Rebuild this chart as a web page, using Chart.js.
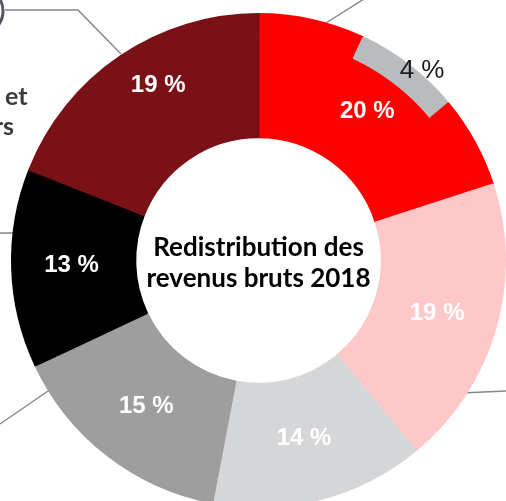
<!DOCTYPE html>
<html>
<head>
<meta charset="utf-8">
<script src="https://cdn.jsdelivr.net/npm/chart.js@4/dist/chart.umd.min.js"></script>
<style>
    html, body { margin: 0; padding: 0; background: #fff; overflow: hidden; width: 506px; height: 501px; }
    #chartBox { position: absolute; left: 0; top: 0; width: 506px; height: 508px; }
</style>
</head>
<body>
<div id="chartBox"><canvas id="revenueChart"></canvas></div>
<script>
// main ring
const categories = ['A', 'B', 'C', 'D', 'E', 'F'];
const shares = [20, 19, 14, 15, 13, 19];
const shareColors = ['#ff0000', '#ffc8c8', '#d5d6d8', '#9e9e9e', '#000000', '#7a1116'];

// outer band: the red 20 % slice is split so the grey "4 %" piece sits on it
const bandValues = [7, 7, 6, 19, 14, 15, 13, 19];
const bandColors = ['#ff0000', '#b9bcbf', '#ff0000', '#ffc8c8', '#d5d6d8', '#9e9e9e', '#000000', '#7a1116'];
const bandLabel = '4 %';

const centerTitle = ['Redistribution des', 'revenus bruts 2018'];

const labelsPlugin = {
    id: 'labelsPlugin',
    beforeDraw: function(chart) {
        // leader lines and cut-off callouts around the chart
        var ctx = chart.ctx;
        ctx.save();
        ctx.strokeStyle = '#80878d';
        ctx.lineWidth = 1.4;
        ctx.beginPath();
        ctx.moveTo(5, 10); ctx.lineTo(78, 10); ctx.lineTo(121, 54);
        ctx.moveTo(364, -1); ctx.lineTo(326, 23);
        ctx.moveTo(0, 233); ctx.lineTo(13, 233);
        ctx.moveTo(0, 424); ctx.lineTo(51, 389);
        ctx.moveTo(461, 393); ctx.lineTo(506, 391);
        ctx.moveTo(311, 494); ctx.lineTo(311, 501);
        ctx.stroke();

        ctx.strokeStyle = '#55595d';
        ctx.lineWidth = 3;
        ctx.beginPath();
        ctx.arc(-21, 11, 24, 0, Math.PI * 2);
        ctx.stroke();

        ctx.fillStyle = '#3b3b3b';
        ctx.font = 'bold 25px Lato, "Open Sans", sans-serif';
        ctx.textBaseline = 'alphabetic';
        ctx.textAlign = 'left';
        ctx.fillText('et', 5, 105);
        ctx.textAlign = 'right';
        ctx.fillText('rs', 14, 135);
        ctx.restore();
    },
    afterDraw: function(chart) {
        var ctx = chart.ctx;
        var mainArcs = chart.getDatasetMeta(1).data;
        var radii = [185, 186, 183, 183, 187, 203];
        var shifts = [0, 0, 0, 0, 0.01, 0.08];

        ctx.save();
        ctx.textAlign = 'center';
        ctx.textBaseline = 'middle';
        ctx.fillStyle = '#ffffff';
        ctx.font = 'bold 24px "Liberation Sans", Arial, sans-serif';
        mainArcs.forEach(function(arc, i) {
            var mid = (arc.startAngle + arc.endAngle) / 2 + shifts[i];
            ctx.fillText(shares[i] + ' %', arc.x + Math.cos(mid) * radii[i], arc.y + Math.sin(mid) * radii[i] + 1);
        });

        // "4 %" on the grey band
        var greyArc = chart.getDatasetMeta(0).data[1];
        var gm = (greyArc.startAngle + greyArc.endAngle) / 2 + 0.05;
        ctx.fillStyle = '#1a1a1a';
        ctx.font = '26px "Liberation Sans", Arial, sans-serif';
        ctx.fillText(bandLabel, greyArc.x + Math.cos(gm) * 251, greyArc.y + Math.sin(gm) * 251 + 1);

        // center title
        var c = mainArcs[0];
        ctx.fillStyle = '#000000';
        ctx.font = 'bold 26px Lato, "Open Sans", sans-serif';
        ctx.fillText(centerTitle[0], c.x, c.y - 13);
        ctx.fillText(centerTitle[1], c.x, c.y + 18);
        ctx.restore();
    }
};

const config = {
    type: 'doughnut',
    data: {
        labels: categories,
        datasets: [{
            data: bandValues,
            backgroundColor: bandColors,
            borderColor: bandColors,
            borderWidth: 2,
            weight: 23
        }, {
            data: shares,
            backgroundColor: shareColors,
            borderColor: shareColors,
            borderWidth: 2,
            weight: 101
        }]
    },
    options: {
        responsive: true,
        maintainAspectRatio: false,
        animation: false,
        cutout: '50%',
        layout: { padding: { left: 11, top: 13, right: 0, bottom: 0 } },
        plugins: {
            legend: { display: false },
            tooltip: { enabled: false }
        }
    },
    plugins: [labelsPlugin]
};

new Chart(document.getElementById('revenueChart').getContext('2d'), config);
</script>
</body>
</html>
